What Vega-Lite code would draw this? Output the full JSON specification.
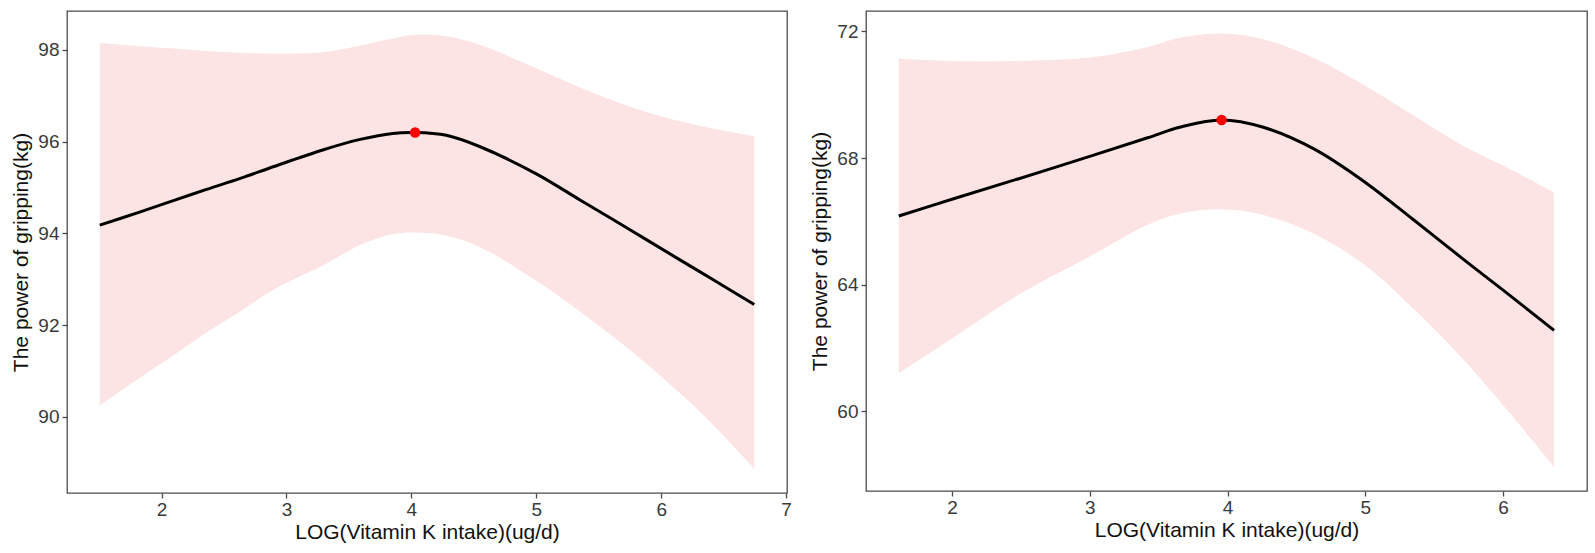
{
  "$schema": "https://vega.github.io/schema/vega-lite/v6.json",
  "background": "white",
  "padding": {"left": 10, "top": 10, "right": 0, "bottom": 0},
  "spacing": 79,
  "bounds": "flush",
  "config": {
    "font": "Liberation Sans",
    "view": {"stroke": "#4a4a4a", "strokeWidth": 1.3},
    "axis": {
      "grid": false,
      "domain": false,
      "tickSize": 5,
      "tickColor": "#4a4a4a",
      "tickWidth": 1.3,
      "labelFont": "Liberation Sans",
      "labelFontSize": 19,
      "labelColor": "#3a3a3a",
      "labelPadding": 3,
      "labelFlush": false,
      "titleFont": "Liberation Sans",
      "titleFontSize": 21,
      "titleFontWeight": "normal",
      "titleColor": "#111111"
    },
    "axisX": {"titlePadding": 2, "labelPadding": 2},
    "axisY": {"titlePadding": 6}
  },
  "datasets": {
    "left": [
      {"x": 1.505, "fit": 94.18, "lo": 90.25, "hi": 98.15},
      {"x": 1.83, "fit": 94.47, "lo": 90.86, "hi": 98.08},
      {"x": 2.1, "fit": 94.72, "lo": 91.35, "hi": 98.03},
      {"x": 2.36, "fit": 94.96, "lo": 91.84, "hi": 97.98},
      {"x": 2.63, "fit": 95.2, "lo": 92.3, "hi": 97.94},
      {"x": 2.9, "fit": 95.46, "lo": 92.78, "hi": 97.92},
      {"x": 3.29, "fit": 95.82, "lo": 93.3, "hi": 97.95},
      {"x": 3.59, "fit": 96.05, "lo": 93.75, "hi": 98.1},
      {"x": 3.85, "fit": 96.18, "lo": 93.98, "hi": 98.25},
      {"x": 4.03, "fit": 96.2, "lo": 94.02, "hi": 98.33},
      {"x": 4.28, "fit": 96.14, "lo": 93.95, "hi": 98.3},
      {"x": 4.55, "fit": 95.89, "lo": 93.7, "hi": 98.11},
      {"x": 5.0, "fit": 95.3, "lo": 92.97, "hi": 97.6},
      {"x": 5.35, "fit": 94.73, "lo": 92.3, "hi": 97.18},
      {"x": 5.75, "fit": 94.08, "lo": 91.46, "hi": 96.76},
      {"x": 6.14, "fit": 93.44, "lo": 90.54, "hi": 96.45},
      {"x": 6.41, "fit": 93.0, "lo": 89.84, "hi": 96.29},
      {"x": 6.745, "fit": 92.45, "lo": 88.87, "hi": 96.12}
    ],
    "right": [
      {"x": 1.614, "fit": 66.17, "lo": 61.2, "hi": 71.13},
      {"x": 2.0, "fit": 66.7, "lo": 62.3, "hi": 71.06},
      {"x": 2.45, "fit": 67.3, "lo": 63.6, "hi": 71.06},
      {"x": 3.0, "fit": 68.05, "lo": 64.89, "hi": 71.17},
      {"x": 3.42, "fit": 68.64, "lo": 65.89, "hi": 71.5},
      {"x": 3.66, "fit": 68.98, "lo": 66.25, "hi": 71.8},
      {"x": 3.957, "fit": 69.2, "lo": 66.38, "hi": 71.93},
      {"x": 4.26, "fit": 68.97, "lo": 66.2, "hi": 71.75},
      {"x": 4.63, "fit": 68.28, "lo": 65.6, "hi": 71.15},
      {"x": 5.0, "fit": 67.23, "lo": 64.61, "hi": 70.28},
      {"x": 5.35, "fit": 66.05, "lo": 63.24, "hi": 69.34},
      {"x": 5.71, "fit": 64.81, "lo": 61.65, "hi": 68.39},
      {"x": 6.0, "fit": 63.83, "lo": 60.2, "hi": 67.76},
      {"x": 6.37, "fit": 62.56, "lo": 58.26, "hi": 66.92}
    ],
    "leftPeak": [{"x": 4.03, "fit": 96.2}],
    "rightPeak": [{"x": 3.957, "fit": 69.2}]
  },
  "hconcat": [
    {
      "width": 720,
      "height": 482,
      "encoding": {
        "x": {
          "field": "x",
          "type": "quantitative",
          "scale": {"domain": [1.243, 7.007], "nice": false, "zero": false},
          "axis": {"title": "LOG(Vitamin K intake)(ug/d)", "values": [2, 3, 4, 5, 6, 7]}
        }
      },
      "layer": [
        {
          "data": {"name": "left"},
          "mark": {"type": "area", "color": "#fde4e4", "opacity": 1, "interpolate": "catmull-rom"},
          "encoding": {
            "y": {
              "field": "lo",
              "type": "quantitative",
              "scale": {"domain": [88.34, 98.85], "nice": false, "zero": false},
              "axis": {"title": "The power of gripping(kg)", "values": [90, 92, 94, 96, 98]}
            },
            "y2": {"field": "hi"}
          }
        },
        {
          "data": {"name": "left"},
          "mark": {"type": "line", "color": "#000000", "strokeWidth": 3, "interpolate": "catmull-rom"},
          "encoding": {"y": {"field": "fit", "type": "quantitative"}}
        },
        {
          "data": {"name": "leftPeak"},
          "mark": {"type": "point", "filled": true, "color": "#ff0000", "opacity": 1, "size": 110},
          "encoding": {"y": {"field": "fit", "type": "quantitative"}}
        }
      ]
    },
    {
      "width": 721,
      "height": 480,
      "encoding": {
        "x": {
          "field": "x",
          "type": "quantitative",
          "scale": {"domain": [1.376, 6.609], "nice": false, "zero": false},
          "axis": {"title": "LOG(Vitamin K intake)(ug/d)", "values": [2, 3, 4, 5, 6]}
        }
      },
      "layer": [
        {
          "data": {"name": "right"},
          "mark": {"type": "area", "color": "#fde4e4", "opacity": 1, "interpolate": "catmull-rom"},
          "encoding": {
            "y": {
              "field": "lo",
              "type": "quantitative",
              "scale": {"domain": [57.49, 72.64], "nice": false, "zero": false},
              "axis": {"title": "The power of gripping(kg)", "values": [60, 64, 68, 72]}
            },
            "y2": {"field": "hi"}
          }
        },
        {
          "data": {"name": "right"},
          "mark": {"type": "line", "color": "#000000", "strokeWidth": 3, "interpolate": "catmull-rom"},
          "encoding": {"y": {"field": "fit", "type": "quantitative"}}
        },
        {
          "data": {"name": "rightPeak"},
          "mark": {"type": "point", "filled": true, "color": "#ff0000", "opacity": 1, "size": 110},
          "encoding": {"y": {"field": "fit", "type": "quantitative"}}
        }
      ]
    }
  ]
}
